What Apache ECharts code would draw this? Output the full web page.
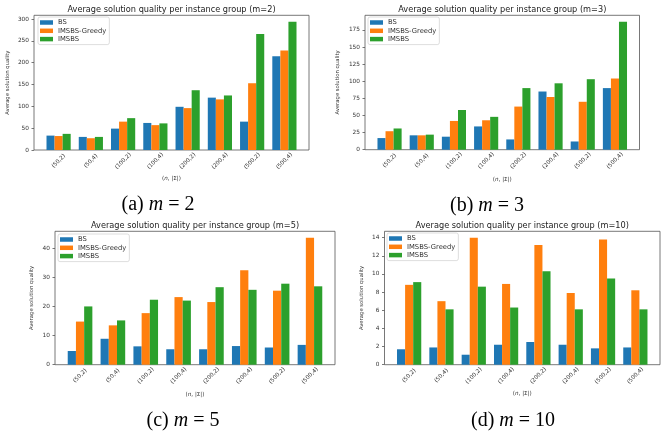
<!DOCTYPE html>
<html>
<head>
<meta charset="utf-8">
<script src="https://cdn.jsdelivr.net/npm/echarts@6/dist/echarts.min.js"></script>
<style>
  html, body { margin: 0; padding: 0; background: #fff; }
  #chart { width: 671px; height: 437px; }
</style>
</head>
<body>
<div id="chart"></div>
<script>
const categories = ['(50,2)', '(50,4)', '(100,2)', '(100,4)', '(200,2)', '(200,4)', '(500,2)', '(500,4)'];
const seriesNames = ['BS', 'IMSBS-Greedy', 'IMSBS'];

// m = 2
const bsM2 = [33, 30, 49, 62, 99, 120, 65, 215];
const greedyM2 = [32, 27, 65, 57, 96, 116, 153, 228];
const imsbsM2 = [37, 30, 73, 61, 137, 125, 266, 294];
const ticksM2 = [0, 50, 100, 150, 200, 250, 300];

// m = 3
const bsM3 = [17, 21, 19, 34, 15, 85, 12, 90];
const greedyM3 = [27, 21, 42, 43, 63, 77, 70, 104];
const imsbsM3 = [31, 22, 58, 48, 90, 97, 103, 187];
const ticksM3 = [0, 25, 50, 75, 100, 125, 150, 175];

// m = 5
const bsM5 = [4.7, 8.9, 6.3, 5.3, 5.3, 6.4, 5.9, 6.8];
const greedyM5 = [14.8, 13.5, 17.7, 23.2, 21.5, 32.4, 25.4, 43.6];
const imsbsM5 = [20.0, 15.2, 22.3, 22.0, 26.6, 25.7, 27.8, 26.9];
const ticksM5 = [0, 10, 20, 30, 40];

// m = 10
const bsM10 = [1.7, 1.9, 1.1, 2.2, 2.5, 2.2, 1.8, 1.9];
const greedyM10 = [8.8, 7.0, 14.0, 8.9, 13.2, 7.9, 13.8, 8.2];
const imsbsM10 = [9.1, 6.1, 8.6, 6.3, 10.3, 6.1, 9.5, 6.1];
const ticksM10 = [0, 2, 4, 6, 8, 10, 12, 14];

const colors = ['#1f77b4', '#ff7f0e', '#2ca02c'];
const font = 'DejaVu Sans';
const frameColor = '#555';
const textColor = '#333';

const panels = [
  { m: '2', tag: 'a', data: [bsM2, greedyM2, imsbsM2], ticks: ticksM2,
    box: { left: 34, top: 15.3, right: 309, bottom: 150 }, legend: { left: 38, top: 17 },
    caption: { x: 158, y: 205 }, yNameGap: 24, xNameGap: 26 },
  { m: '3', tag: 'b', data: [bsM3, greedyM3, imsbsM3], ticks: ticksM3,
    box: { left: 365, top: 15.3, right: 639.5, bottom: 149.7 }, legend: { left: 368, top: 17 },
    caption: { x: 487, y: 206 }, yNameGap: 25, xNameGap: 27 },
  { m: '5', tag: 'c', data: [bsM5, greedyM5, imsbsM5], ticks: ticksM5,
    box: { left: 55, top: 231.3, right: 335, bottom: 364.7 }, legend: { left: 58, top: 234 },
    caption: { x: 183, y: 421 }, yNameGap: 21, xNameGap: 27 },
  { m: '10', tag: 'd', data: [bsM10, greedyM10, imsbsM10], ticks: ticksM10,
    box: { left: 384.5, top: 231.3, right: 660, bottom: 364.7 }, legend: { left: 387, top: 233 },
    caption: { x: 513, y: 421 }, yNameGap: 20, xNameGap: 26 }
];

const grids = [], xAxes = [], yAxes = [], series = [], legends = [], graphics = [];

panels.forEach((p, i) => {
  const w = p.box.right - p.box.left;
  const h = p.box.bottom - p.box.top;
  // matplotlib-like x range: bars span -0.375..7.375 plus 5% margins
  const unit = w / 8.525;
  const yMax = Math.max(...p.data.flat()) * 1.05;

  grids.push({ left: p.box.left, top: p.box.top, width: w, height: h,
    show: true, borderColor: frameColor, borderWidth: 0.8, backgroundColor: 'transparent' });
  grids.push({ left: p.box.left + 0.2625 * unit, top: p.box.top, width: 8 * unit, height: h });

  xAxes.push({ type: 'value', gridIndex: 2 * i, show: false });
  xAxes.push({
    type: 'category', gridIndex: 2 * i + 1, data: categories,
    axisLine: { show: false },
    axisTick: { alignWithLabel: true, length: 2.5, lineStyle: { color: frameColor, width: 0.8 } },
    axisLabel: { rotate: 45, align: 'center', verticalAlign: 'middle', margin: 11,
      fontSize: 5.6, color: textColor, fontFamily: font },
    name: '({i|n}, |Σ|)', nameLocation: 'middle', nameGap: p.xNameGap,
    nameTextStyle: { fontSize: 5.6, color: textColor, fontFamily: font,
      rich: { i: { fontStyle: 'italic', fontSize: 5.6, color: textColor, fontFamily: font } } }
  });

  yAxes.push({
    type: 'value', gridIndex: 2 * i, min: 0, max: yMax,
    splitLine: { show: false }, axisLine: { show: false },
    axisTick: { show: true, customValues: p.ticks, length: 2.5, lineStyle: { color: frameColor, width: 0.8 } },
    axisLabel: { customValues: p.ticks, fontSize: 5.8, margin: 5, color: textColor, fontFamily: font },
    name: 'Average solution quality', nameLocation: 'middle', nameRotate: 90, nameGap: p.yNameGap,
    nameTextStyle: { fontSize: 5.3, color: textColor, fontFamily: font }
  });
  yAxes.push({ type: 'value', gridIndex: 2 * i + 1, min: 0, max: yMax, show: false });

  p.data.forEach((vals, k) => {
    series.push({
      type: 'bar', name: seriesNames[k], xAxisIndex: 2 * i + 1, yAxisIndex: 2 * i + 1,
      data: vals, barGap: '0%', barCategoryGap: '25%',
      itemStyle: { color: colors[k] }
    });
  });

  legends.push({
    data: seriesNames, orient: 'vertical', left: p.legend.left, top: p.legend.top,
    icon: 'rect', itemWidth: 13, itemHeight: 4.5, itemGap: 1.3,
    padding: [2, 3, 2, 2], borderColor: '#d4d4d4', borderWidth: 0.8, borderRadius: 2,
    backgroundColor: 'rgba(255,255,255,0.8)',
    textStyle: { fontSize: 6.8, color: textColor, fontFamily: font, padding: [0, 0, 0, 0] },
    selectedMode: false
  });

  graphics.push({
    type: 'text', x: (p.box.left + p.box.right) / 2, y: p.box.top - 5.5,
    style: { text: 'Average solution quality per instance group (m=' + p.m + ')',
      fontSize: 8.2, fontFamily: font, fill: '#222', align: 'center', verticalAlign: 'middle' }
  });
  graphics.push({
    type: 'text', x: p.caption.x, y: p.caption.y,
    style: { text: '(' + p.tag + ') {i|m} = ' + p.m,
      fontSize: 20, fontFamily: 'Liberation Serif', fill: '#000', align: 'center', verticalAlign: 'middle',
      rich: { i: { fontStyle: 'italic', fontSize: 20, fontFamily: 'Liberation Serif', fill: '#000' } } }
  });
});

const chart = echarts.init(document.getElementById('chart'));
chart.setOption({
  animation: false,
  backgroundColor: '#fff',
  grid: grids,
  xAxis: xAxes,
  yAxis: yAxes,
  legend: legends,
  series: series,
  graphic: graphics
});
</script>
</body>
</html>
